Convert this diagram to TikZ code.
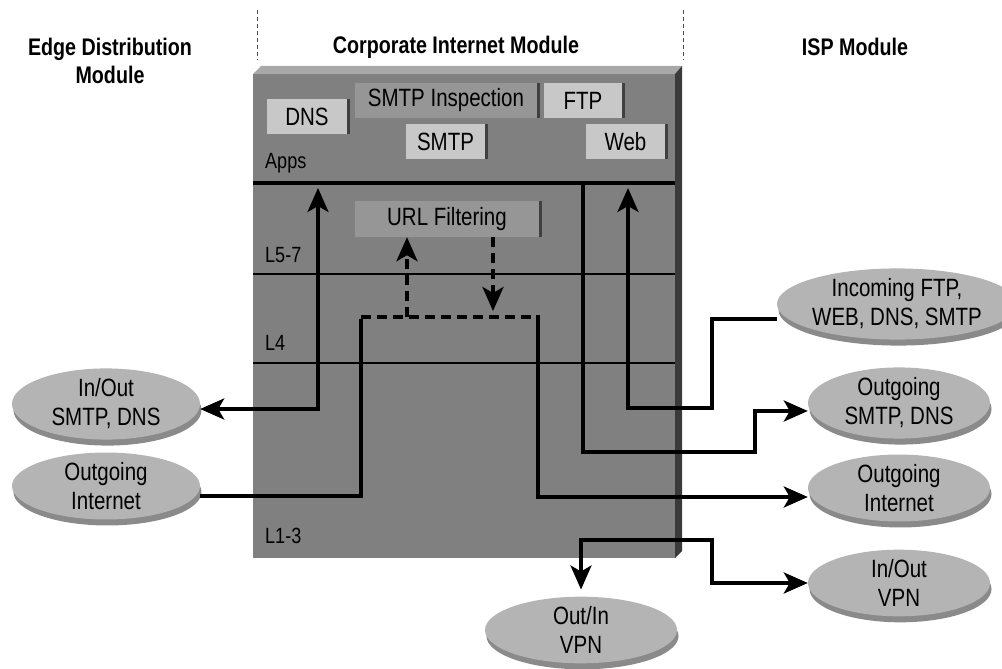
\documentclass[tikz,border=0pt]{standalone}
\usepackage{fontspec}
\setmainfont{Liberation Sans}[FakeStretch=0.82]
\usetikzlibrary{shapes.geometric,shadows,arrows.meta}
\definecolor{boxface}{HTML}{808080}
\definecolor{boxtop}{HTML}{A8A8A8}
\definecolor{boxside}{HTML}{3A3A3A}
\definecolor{applight}{HTML}{C8C8C8}
\definecolor{appmid}{HTML}{969696}
\definecolor{ovalgray}{HTML}{B4B4B4}
\definecolor{ovalrim}{HTML}{8A8A8A}
\begin{document}
\begin{tikzpicture}[x=1pt,y=-1pt,
  hdr/.style={font=\fontsize{24}{28}\selectfont\bfseries, align=center, inner sep=0pt},
  lyr/.style={font=\fontsize{22}{24}\selectfont, anchor=west, inner sep=0pt},
  oval/.style={ellipse, fill=ovalgray, minimum height=62pt, inner sep=0pt, align=center,
    font=\fontsize{25}{29}\selectfont,
    drop shadow={shadow xshift=1.5pt, shadow yshift=-6pt, fill=ovalrim, opacity=1}},
  appbox/.style={rectangle, fill=applight, minimum height=35pt, inner sep=0pt,
    font=\fontsize{25}{28}\selectfont,
    drop shadow={shadow xshift=3pt, shadow yshift=0pt, fill=black!75, opacity=1}},
  conn/.style={line width=3.5pt, line join=miter},
  arr/.style={conn, -{Stealth[length=24pt,width=21pt,inset=6pt]}},
  biarr/.style={conn, {Stealth[length=24pt,width=21pt,inset=6pt]}-{Stealth[length=24pt,width=21pt,inset=6pt]}},
  dashline/.style={dash pattern=on 10pt off 6pt}
]
\useasboundingbox (0,0) rectangle (1002,669);

% headers
\node[hdr] (h1) at (110,61) {Edge Distribution\\Module};
\node[hdr] (h2) at (456,47) {Corporate Internet Module};
\node[hdr] (h3) at (855,47) {ISP Module};
\draw[line width=0.8pt, dash pattern=on 4pt off 3pt, black!70] (257,10) -- (257,60);
\draw[line width=0.8pt, dash pattern=on 4pt off 3pt, black!70] (683,10) -- (683,60);

% main block
\fill[boxtop] (253,74) -- (261,66) -- (682,66) -- (675,74) -- cycle;
\fill[boxside] (675,74) -- (682,66) -- (682,551) -- (675,558) -- cycle;
\fill[boxface] (253,74) rectangle (675,558);

% layer lines
\draw[line width=4pt] (253,183) -- (675,183);
\draw[line width=1.2pt] (253,274) -- (675,274);
\draw[line width=1.2pt] (253,363) -- (675,363);

\node[lyr] (lapps) at (265,163) {Apps};
\node[lyr] (l57) at (265,255) {L5-7};
\node[lyr] (l4) at (265,343) {L4};
\node[lyr] (l13) at (265,536) {L1-3};

% application boxes
\node[appbox, minimum width=80pt] (dns) at (307,116.5) {DNS};
\node[appbox, fill=appmid, minimum width=182pt] (smtpi) at (446,100.5) {SMTP Inspection};
\node[appbox, minimum width=78pt] (ftp) at (583,100.5) {FTP};
\node[appbox, minimum width=79pt] (smtp) at (445.5,141.5) {SMTP};
\node[appbox, minimum width=79pt] (web) at (625.5,141.5) {Web};
\node[appbox, fill=appmid, minimum width=184pt, minimum height=36pt] (url) at (447,219) {URL Filtering};

% ellipses
\node[oval, minimum width=188pt] (ioL) at (106,404) {In/Out\\SMTP, DNS};
\node[oval, minimum width=188pt] (oiL) at (106,486) {Outgoing\\Internet};
\node[oval, minimum width=206pt] (ifR) at (897,304) {Incoming FTP,\\WEB, DNS, SMTP};
\node[oval, minimum width=182pt] (osR) at (899,403) {Outgoing\\SMTP, DNS};
\node[oval, minimum width=182pt] (oiR) at (899,488) {Outgoing\\Internet};
\node[oval, minimum width=182pt] (ivR) at (899,583) {In/Out\\VPN};
\node[oval, minimum width=192pt] (ovpn) at (581,630) {Out/In\\VPN};

% connector coordinates
\coordinate (a1) at (318,188);
\coordinate (c1) at (361,317);
\coordinate (c2) at (538,317);
\coordinate (d1) at (407,317);
\coordinate (d2) at (493,311);
\coordinate (c3) at (583,183);
\coordinate (c4) at (755,452);
\coordinate (c5) at (712,408);
\coordinate (c6) at (628,188);
\coordinate (c8) at (712,540);

% connectors
\draw[biarr] (a1) |- ([yshift=-5pt]ioL.east);
\draw[conn] ([yshift=-10pt]oiL.east) -| ([yshift=-1.75pt]c1);
\draw[conn, dashline] (c1) -- (c2);
\draw[arr] ([yshift=1.75pt]c2) |- ([yshift=-9pt]oiR.west);
\draw[arr, dashline] (d1) -- (d1 |- url.south);
\draw[arr, dashline] (url.south -| d2) -- (d2);
\draw[arr] (c3) |- (c4) |- ([yshift=-8pt]osR.west);
\draw[arr] ([yshift=-15pt]ifR.west) -| (c5) -| (c6);
\draw[biarr] ([yshift=7pt]ovpn.north) |- (c8) |- (ivR.west);
\end{tikzpicture}
\end{document}
